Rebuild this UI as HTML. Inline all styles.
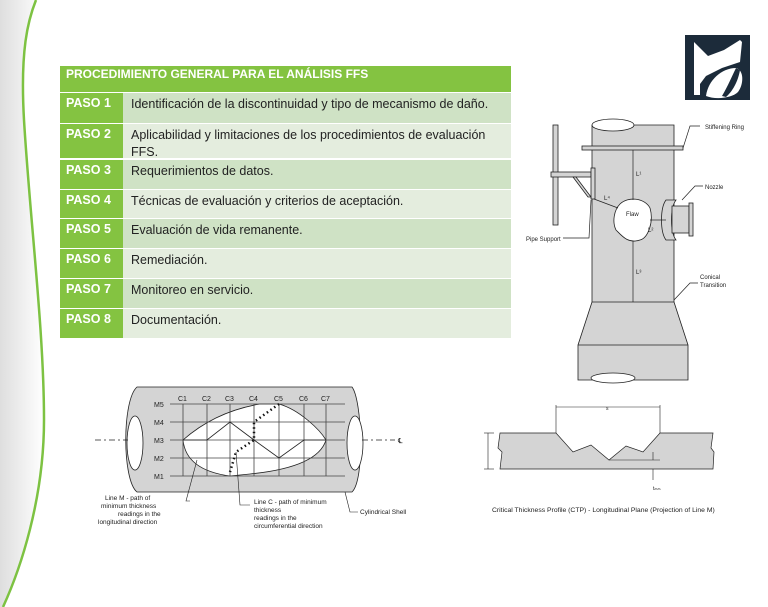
<!DOCTYPE html>
<html><head><meta charset="utf-8"><style>
body{margin:0;width:768px;height:607px;overflow:hidden;background:#fff;font-family:"Liberation Sans",sans-serif;position:relative}
.h{position:absolute;left:60px;top:66px;width:451px;height:26px;background:#84c341;color:#fff;font-weight:bold;font-size:12px;padding:0 0 0 6px;box-sizing:border-box;line-height:16px}
.r{position:absolute;left:60px;width:451px}
.r .a{position:absolute;left:0;top:0;bottom:0;width:63px;background:#84c341;color:#fff;font-weight:bold;font-size:12.5px;padding:3px 0 0 6px;box-sizing:border-box}
.r .b{position:absolute;left:65px;right:0;top:0;bottom:0;padding:3px 0 0 6px;box-sizing:border-box;font-size:12.5px;color:#222;line-height:17px}
.d{background:#cfe2c5}.l{background:#e4edde}
</style></head><body>
<svg width="768" height="607" style="position:absolute;left:0;top:0">
<defs><linearGradient id="g" x1="0" x2="1"><stop offset="0" stop-color="#d0d0d0"/><stop offset="1" stop-color="#fff"/></linearGradient></defs>
<path d="M0,0 L36,0 C28,20 20,50 24,120 C30,220 44,330 44,420 C44,500 20,570 3,607 L0,607Z" fill="url(#g)" opacity="0.7"/>
<path d="M36,0 C28,20 20,50 24,120 C30,220 44,330 44,420 C44,500 20,570 3,607" fill="none" stroke="#7dc242" stroke-width="2.5"/>
<!-- logo -->
<rect x="685" y="35" width="65" height="65" fill="#1c2b3a"/>
<path d="M694,42 L708,56 L724,50 L740,40 L742,42 L740,62 L722,68 L706,76 L700,84 L700,95 L694,95 Z" fill="#fff"/>
<path d="M706,96 C708,80 722,68 736,68 C744,70 744,84 738,92 C732,98 716,100 706,96Z" fill="#fff"/>
<path d="M722,96 C728,86 732,76 736,68 L740,70 C738,82 732,92 726,97Z" fill="#1c2b3a"/>
<!-- vessel -->
<g stroke="#222" stroke-width="0.8" fill="#d4d4d4">
<rect x="553" y="125" width="5" height="100"/>
<path d="M592,125 L674,125 L674,302 L688,345 L688,380 L578,380 L578,345 L592,302Z"/>
<ellipse cx="613" cy="125" rx="21" ry="6" fill="#fff"/>
<ellipse cx="613" cy="378" rx="22" ry="5" fill="#fff"/>
<line x1="592" y1="302" x2="674" y2="302"/><line x1="578" y1="345" x2="688" y2="345"/>
<rect x="582" y="146" width="101" height="4"/>
<rect x="551" y="172" width="40" height="5"/>
<rect x="591" y="168" width="4" height="31"/>
<path d="M573,177 L588,197 L591,197 L576,177Z"/>
<path d="M620,204 C628,196 645,198 650,208 C654,222 648,238 640,240 C628,244 622,236 616,230 C612,222 614,210 620,204Z" fill="#fff"/>
<path d="M666,200 C660,208 660,232 666,240 L676,240 C670,232 670,208 676,200Z"/>
<rect x="672" y="206" width="17" height="27"/>
<rect x="689" y="203" width="4" height="33"/>
</g>
<g stroke="#222" stroke-width="0.7" fill="none">
<line x1="633" y1="150" x2="633" y2="200"/><line x1="633" y1="241" x2="633" y2="302"/>
<line x1="594" y1="199" x2="618" y2="208"/><line x1="650" y1="220" x2="666" y2="220"/>
<polyline points="683,148 690,126 700,126"/><polyline points="674,300 690,283 698,283"/>
<polyline points="682,200 695,186 703,186"/><polyline points="563,238 589,238 591,200"/>
</g>
<g font-size="6" fill="#222" font-family="Liberation Sans">
<text x="705" y="129">Stiffening Ring</text><text x="705" y="189">Nozzle</text>
<text x="526" y="241">Pipe Support</text><text x="700" y="279">Conical</text><text x="700" y="287">Transition</text>
<text x="626" y="216">Flaw</text>
<text x="636" y="176">L¹</text><text x="604" y="200">L⁴</text><text x="648" y="232">L²</text><text x="636" y="274">L³</text>
</g>
<!-- cylinder -->
<g stroke="#222" stroke-width="0.8">
<path d="M137,387 L352,387 C362,400 365,480 352,492 L137,492 C122,480 122,400 137,387Z" fill="#d4d4d4"/>
<ellipse cx="135" cy="443" rx="8" ry="27" fill="#fff"/>
<ellipse cx="355" cy="443" rx="8" ry="27" fill="#fff"/>
<path d="M183,440 C200,425 225,410 260,404 L279,404 C300,410 320,430 326,440 C320,460 290,470 250,474 L230,476 C200,472 185,460 183,440Z" fill="#fff"/>
</g>
<g stroke="#444" stroke-width="0.8">
<line x1="170" y1="404" x2="345" y2="404"/><line x1="170" y1="422" x2="345" y2="422"/><line x1="170" y1="440" x2="345" y2="440"/><line x1="170" y1="458" x2="345" y2="458"/><line x1="170" y1="476" x2="345" y2="476"/>
<line x1="183" y1="404" x2="183" y2="476"/><line x1="207" y1="404" x2="207" y2="476"/><line x1="230" y1="404" x2="230" y2="476"/><line x1="254" y1="404" x2="254" y2="476"/><line x1="279" y1="404" x2="279" y2="476"/><line x1="304" y1="404" x2="304" y2="476"/><line x1="326" y1="404" x2="326" y2="476"/>
<polyline points="183,440 207,440 230,422 254,440 279,458 304,440 326,440" fill="none" stroke="#222"/>
<line x1="95" y1="440" x2="128" y2="440" stroke-dasharray="6,3,2,3" stroke="#222"/>
<line x1="362" y1="440" x2="395" y2="440" stroke-dasharray="6,3,2,3" stroke="#222"/>
</g>
<polyline points="279,404 254,422 254,440 236,452 230,472" fill="none" stroke="#111" stroke-width="2.5" stroke-dasharray="1.5,3"/>
<g fill="#222" font-size="7" font-family="Liberation Sans">
<text x="178" y="401">C1</text><text x="202" y="401">C2</text><text x="225" y="401">C3</text><text x="249" y="401">C4</text><text x="274" y="401">C5</text><text x="299" y="401">C6</text><text x="321" y="401">C7</text>
<text x="154" y="407">M5</text><text x="154" y="425">M4</text><text x="154" y="443">M3</text><text x="154" y="461">M2</text><text x="154" y="479">M1</text>
<text x="398" y="443">℄</text>
<text x="105" y="500" font-size="6.5">Line M - path of</text><text x="101" y="508" font-size="6.5">minimum thickness</text><text x="118" y="516" font-size="6.5">readings in the</text><text x="98" y="524" font-size="6.5">longitudinal direction</text>
<text x="254" y="504" font-size="6.5">Line C - path of minimum</text><text x="254" y="512" font-size="6.5">thickness</text><text x="254" y="520" font-size="6.5">readings in the</text><text x="254" y="528" font-size="6.5">circumferential direction</text>
<text x="360" y="514" font-size="6.5">Cylindrical Shell</text>
</g>
<polyline points="190,501 186,501 197,460" fill="none" stroke="#222" stroke-width="0.6"/>
<polyline points="250,505 240,505 236,452" fill="none" stroke="#222" stroke-width="0.6"/>
<polyline points="358,512 350,512 345,492" fill="none" stroke="#222" stroke-width="0.6"/>
<!-- CTP -->
<path d="M500,433 L556,433 L573,452 L591,445 L609,460 L626,446 L643,452 L660,433 L713,433 L711,448 L714,452 L713,469 L500,469 L502,452 L498,448Z" fill="#d4d4d4" stroke="#222" stroke-width="0.7"/>
<g stroke="#222" stroke-width="0.6" fill="none">
<line x1="556" y1="405" x2="556" y2="433"/><line x1="660" y1="405" x2="660" y2="433"/><line x1="556" y1="407" x2="660" y2="407"/>
<line x1="484" y1="433" x2="494" y2="433"/><line x1="484" y1="469" x2="494" y2="469"/><line x1="488" y1="433" x2="488" y2="469"/>
<line x1="609" y1="460" x2="660" y2="460"/><line x1="653" y1="452" x2="653" y2="460"/><line x1="653" y1="469" x2="653" y2="480"/>
</g>
<text x="606" y="410" font-size="5" fill="#222">s</text>
<text x="653" y="490" font-size="5" fill="#222">tₘₘ</text>
<text x="492" y="512" font-size="6.8" fill="#222" font-family="Liberation Sans">Critical Thickness Profile (CTP) - Longitudinal Plane (Projection of Line M)</text>
</svg>
<div class="h">PROCEDIMIENTO GENERAL PARA EL ANÁLISIS FFS</div>
<div class="r d" style="top:93px;height:30px"><div class="a">PASO 1</div><div class="b d">Identificación de la discontinuidad y tipo de mecanismo de daño.</div></div>
<div class="r l" style="top:124px;height:34px"><div class="a">PASO 2</div><div class="b l">Aplicabilidad y limitaciones de los procedimientos de evaluación FFS.</div></div>
<div class="r d" style="top:160px;height:29px"><div class="a">PASO 3</div><div class="b d">Requerimientos de datos.</div></div>
<div class="r l" style="top:190px;height:28px"><div class="a">PASO 4</div><div class="b l">Técnicas de evaluación y criterios de aceptación.</div></div>
<div class="r d" style="top:219px;height:29px"><div class="a">PASO 5</div><div class="b d">Evaluación de vida remanente.</div></div>
<div class="r l" style="top:249px;height:29px"><div class="a">PASO 6</div><div class="b l">Remediación.</div></div>
<div class="r d" style="top:279px;height:29px"><div class="a">PASO 7</div><div class="b d">Monitoreo en servicio.</div></div>
<div class="r l" style="top:309px;height:29px"><div class="a">PASO 8</div><div class="b l">Documentación.</div></div>
</body></html>
